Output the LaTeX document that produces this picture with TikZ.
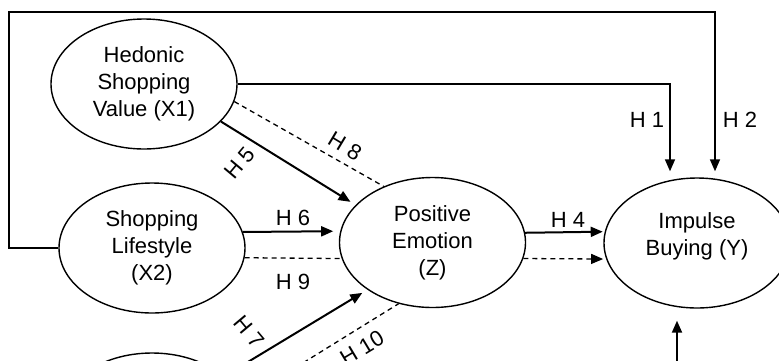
\documentclass[tikz,border=0pt]{standalone}
\usepackage{fontspec}
\setmainfont{Liberation Sans}
\usetikzlibrary{shapes.geometric,arrows.meta,calc}
\newcommand\diagfont{\fontsize{22}{27}\selectfont}
\begin{document}
\begin{tikzpicture}[x=1pt,y=-1pt,
  latent/.style={ellipse, draw, line width=1.4pt, minimum width=186pt, minimum height=130pt, inner sep=0pt, align=center, font=\diagfont},
  hlab/.style={font=\diagfont, inner sep=0pt, align=center},
  tipstyle/.style={-{Triangle[length=12pt,width=10pt]}},
  solidarrow/.style={line width=2pt, tipstyle},
  dashline/.style={line width=1.3pt, dash pattern=on 5pt off 4pt},
  framepath/.style={line width=1.6pt}
]
\useasboundingbox (0,0) rectangle (779,360);
\clip (0,0) rectangle (779,360);

% latent variables
\node[latent] (x1) at (144,84) {Hedonic\\Shopping\\Value (X1)};
\node[latent] (x2) at (152,248) {Shopping\\Lifestyle\\(X2)};
\node[latent] (x3) at (152,418) {};
\node[latent] (z) at (432.5,242.5) {Positive\\Emotion\\(Z)};
\node[latent] (y) at (697,243) {};
\node[hlab] (ytext) at (697,236) {Impulse\\Buying (Y)};

% helper coordinates
\coordinate (tl) at (9,12);
\coordinate (h1x) at (670,0);
\coordinate (h2x) at (715,0);
\coordinate (ybot) at (677,375);

% direct effects to Y
\draw[framepath, tipstyle, shorten >=6pt] (x1.east) -| (h1x |- y.north);
\draw[framepath, tipstyle, shorten >=6pt] (x2.west) -| (tl) -| (h2x |- y.north);
\draw[solidarrow, shorten >=12pt] (ybot) -- (ybot |- y.south);

% effects to Z
\draw[solidarrow, shorten >=6pt] (x1.-26) -- (z.154);
\draw[dashline] (x1.-11) -- (z.131);
\draw[solidarrow, shorten >=7pt] (x2.10) -- (z.173.5);
\draw[dashline] (x2.-6) -- (z.190);
\draw[solidarrow, shorten >=6pt] (x3.30) -- (z.216);
\draw[dashline] (x3.11) -- (z.241);

% Z to Y
\draw[solidarrow, shorten >=2pt] (z.6.5) -- (y.173.2);
\draw[dashline, tipstyle, shorten >=3pt] (z.-10) -- (y.190);

% labels
\node[hlab] (l1) at (647,120) {H 1};
\node[hlab] (l2) at (740,120) {H 2};
\node[hlab] (l4) at (568,220) {H 4};
\node[hlab] (l6) at (293,218) {H 6};
\node[hlab] (l9) at (293,282) {H 9};
\node[hlab, rotate=50] (l5) at (240,163) {H 5};
\node[hlab, rotate=-31] (l8) at (345,146) {H 8};
\node[hlab, rotate=-50] (l7) at (249,332) {H 7};
\node[hlab, rotate=31] (l10) at (362,348) {H 10};
\end{tikzpicture}
\end{document}
